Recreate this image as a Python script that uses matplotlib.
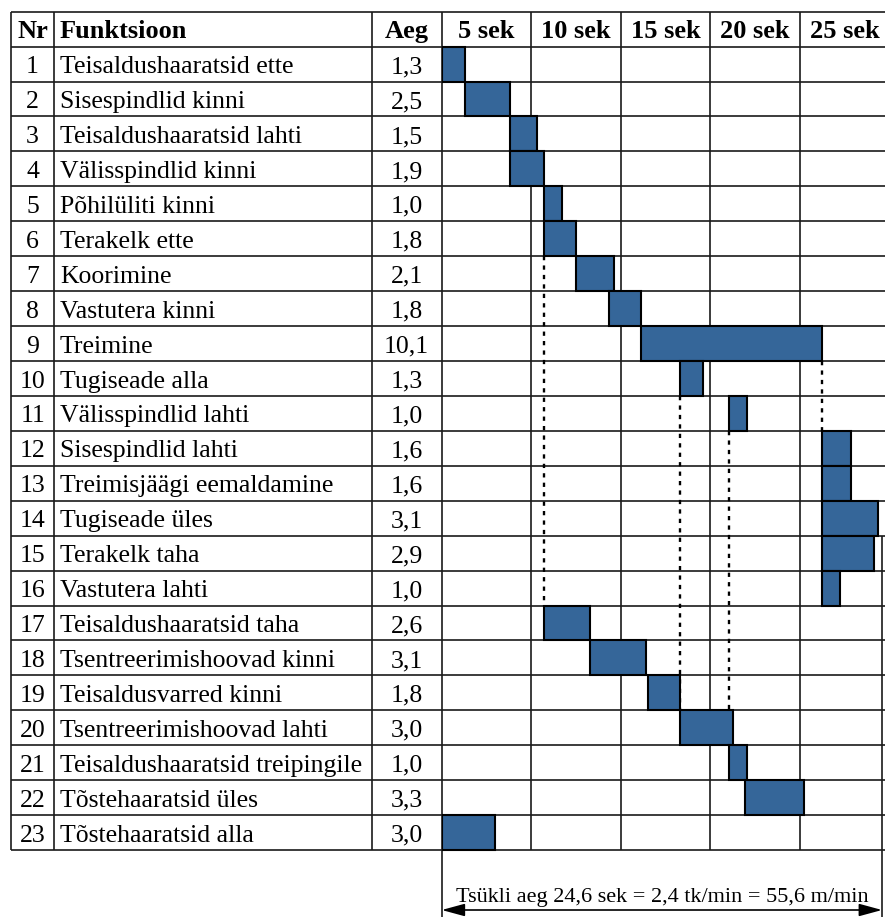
import matplotlib
matplotlib.use("Agg")
import matplotlib.pyplot as plt
from matplotlib.patches import ArrowStyle

plt.rcParams['font.family'] = ['Liberation Serif', 'DejaVu Serif']

# ---- data -----------------------------------------------------------------
nr = list(range(1, 24))
functions = [
    "Teisaldushaaratsid ette",
    "Sisespindlid kinni",
    "Teisaldushaaratsid lahti",
    "Välisspindlid kinni",
    "Põhilüliti kinni",
    "Terakelk ette",
    "Koorimine",
    "Vastutera kinni",
    "Treimine",
    "Tugiseade alla",
    "Välisspindlid lahti",
    "Sisespindlid lahti",
    "Treimisjäägi eemaldamine",
    "Tugiseade üles",
    "Terakelk taha",
    "Vastutera lahti",
    "Teisaldushaaratsid taha",
    "Tsentreerimishoovad kinni",
    "Teisaldusvarred kinni",
    "Tsentreerimishoovad lahti",
    "Teisaldushaaratsid treipingile",
    "Tõstehaaratsid üles",
    "Tõstehaaratsid alla",
]
durations = [1.3, 2.5, 1.5, 1.9, 1.0, 1.8, 2.1, 1.8, 10.1, 1.3, 1.0, 1.6,
             1.6, 3.1, 2.9, 1.0, 2.6, 3.1, 1.8, 3.0, 1.0, 3.3, 3.0]
starts = [0.0, 1.3, 3.8, 3.8, 5.7, 5.7, 7.5, 9.35, 11.15, 13.3, 16.05, 21.25,
          21.25, 21.25, 21.25, 21.25, 5.7, 8.3, 11.5, 13.3, 16.05, 16.95, 0.0]
time_headers = ["5 sek", "10 sek", "15 sek", "20 sek", "25 sek"]
time_step = 5
cycle_time = 24.6
cycle_label = "Tsükli aeg 24,6 sek = 2,4 tk/min = 55,6 m/min"

# waiting links: x position (s), first row edge, last row edge
wait_x = [5.7, 13.3, 16.05, 21.25]
wait_from = [7, 11, 12, 10]
wait_to = [17, 20, 21, 12]

# ---- layout ---------------------------------------------------------------
W, H, DPI = 885, 917, 100
t0_px = 441.7          # where the time scale starts
px_per_sec = 17.9
row_h = 34.93
top_px = 11.7
n_rows = len(functions) + 1   # header + tasks

y_top = -top_px / row_h
y_bot = (H - top_px) / row_h
x_max = (W - t0_px) / px_per_sec

fig = plt.figure(figsize=(W / DPI, H / DPI), dpi=DPI)
ax_t = fig.add_axes([0, 0, t0_px / W, 1])
ax_g = fig.add_axes([t0_px / W, 0, 1 - t0_px / W, 1])
for ax in (ax_t, ax_g):
    ax.set_ylim(y_bot, y_top)
    ax.axis('off')
ax_t.set_xlim(0, t0_px)
ax_g.set_xlim(0, x_max)

line_kw = dict(color='#1a1a1a', lw=1.2, clip_on=False, zorder=1)

# table grid
col_edges = [11, 54.3, 371.7]
ax_t.hlines(range(n_rows + 1), col_edges[0], t0_px, **line_kw)
ax_t.vlines(col_edges, 0, n_rows, **line_kw)

# time grid
ax_g.hlines(range(n_rows + 1), 0, x_max, **line_kw)
ax_g.vlines([time_step * k for k in range(1, len(time_headers))], 0, n_rows, **line_kw)
ax_g.vlines(0, 0, y_bot, **line_kw)
ax_g.vlines(cycle_time, 15, y_bot, **line_kw)

# header
hdr_kw = dict(fontsize=19, fontweight='bold', va='baseline')
base = 0.76
ax_t.text(32.6, base, "Nr", ha='center', **hdr_kw)
ax_t.text(60, base, "Funktsioon", ha='left', **hdr_kw)
ax_t.text(406.7, base, "Aeg", ha='center', **hdr_kw)
for k, lab in enumerate(time_headers):
    ax_g.text(time_step * (k + 0.5), base, lab, ha='center', **hdr_kw)

# table body
body_kw = dict(fontsize=18.5, va='baseline')
for i, (n, f, d) in enumerate(zip(nr, functions, durations), start=1):
    ax_t.text(32.6, i + base, str(n), ha='center', **body_kw)
    ax_t.text(60, i + base, f, ha='left', **body_kw)
    ax_t.text(406.7, i + base, f"{d:.1f}".replace('.', ','), ha='center', **body_kw)

# task bars
ax_g.barh([i + 0.5 for i in range(1, n_rows)], durations, left=starts,
          height=1.0, color='#356699', edgecolor='black', linewidth=1.5, zorder=3)

# waiting links
ax_g.vlines(wait_x, wait_from, wait_to, colors='black', linewidth=1.7,
            linestyles=(0, (1.8, 2.2)), zorder=2)

# cycle time dimension arrow
y_arrow = (910 - top_px) / row_h
ax_g.annotate('', xy=(0, y_arrow), xytext=(cycle_time, y_arrow),
              arrowprops=dict(arrowstyle=ArrowStyle('<|-|>', head_length=14, head_width=3.8),
                              mutation_scale=1, shrinkA=0, shrinkB=0,
                              color='black', lw=1.2),
              annotation_clip=False)
ax_g.text(cycle_time / 2, (902 - top_px) / row_h, cycle_label,
          ha='center', va='baseline', fontsize=16)

fig.savefig('out.png', dpi=DPI)
